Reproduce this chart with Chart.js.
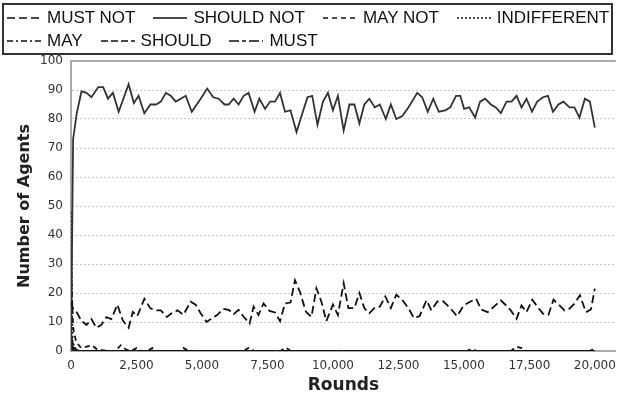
<!DOCTYPE html>
<html>
<head>
<meta charset="utf-8">
<script src="https://cdn.jsdelivr.net/npm/chart.js@4/dist/chart.umd.min.js"></script>
<style>
  html, body { margin:0; padding:0; background:#fff; }
  #wrap { position:relative; width:624px; height:401px; }
  #chart { position:absolute; left:0; top:0; z-index:1; }
  #legend { position:absolute; left:2px; top:3px; width:611px; height:52px; border:2px solid #333; z-index:2;
    font-family:"Liberation Sans", Arial, sans-serif; font-size:17px; color:#111; box-sizing:border-box;
    white-space:nowrap; overflow:hidden; }
  .row { display:flex; align-items:center; height:23px; padding-left:3px; }
  .row:first-child { margin-top:1px; }
  .item { display:flex; align-items:center; margin-right:18px; flex:none; }
  .item svg { margin-right:6px; flex:none; }
</style>
</head>
<body>
<div id="wrap">
  <canvas id="chart" width="624" height="401"></canvas>
  <div id="legend"></div>
</div>
<script>
// series names, in legend order
const seriesNames = ['MUST NOT', 'SHOULD NOT', 'MAY NOT', 'INDIFFERENT', 'MAY', 'SHOULD', 'MUST'];

// SHOULD NOT (solid line near the top)
const shouldNotRounds = [0,80,220,400,590,780,1040,1230,1410,1600,
  1820,2200,2400,2580,2800,3030,3250,3430,3620,3810,
  4000,4190,4380,4610,4950,5200,5430,5640,5860,6020,
  6210,6400,6590,6780,7010,7190,7410,7600,7790,7980,
  8170,8380,8610,8800,9030,9210,9410,9620,9810,10000,
  10190,10410,10630,10820,11010,11200,11390,11600,11790,12020,
  12210,12420,12650,12880,13220,13410,13620,13830,14040,14290,
  14480,14700,14860,15010,15200,15430,15620,15810,16030,16220,
  16410,16630,16820,17010,17200,17390,17600,17800,18020,18210,
  18400,18610,18800,19030,19220,19410,19620,19810,20000];
const shouldNotValues = [0,73,82,89.5,89,87.5,91,91,87,89,
  82.5,92,85.5,88,82,85,85,86,89,88,
  86,87,88,82.5,87,90.5,87.5,87,85,85,
  87,85,88,89,82.5,87,83.5,86,86,89,
  82.5,83,75.5,81,87.5,88,78,86,89,83,
  88,76,85,85,78.5,85,87,84,85,80,
  85,80,81,84,89,87.5,82.5,87,82.5,83,
  84,88,88,83.5,84,80.5,86,87,85,84,
  82,86,86,88,84,87,82.5,86,87.5,88,
  82.5,85,86,84,84,80.5,87,86,77];

// MUST NOT (long dashes around 10-25)
const mustNotRounds = [0,100,220,400,590,780,970,1160,1350,1540,
  1770,1980,2200,2360,2530,2800,3030,3250,3430,3660,
  3840,4070,4290,4570,4760,4950,5180,5390,5580,5810,
  6020,6210,6400,6590,6820,6970,7160,7350,7580,7790,
  7980,8170,8380,8550,8740,8970,9180,9370,9560,9750,
  10000,10190,10410,10590,10820,11010,11200,11390,11600,11790,
  12000,12210,12420,12650,12880,13090,13310,13570,13760,13980,
  14190,14480,14740,14990,15220,15470,15660,15910,16160,16410,
  16670,16790,17010,17200,17390,17610,17830,18020,18230,18420,
  18650,18840,19030,19220,19430,19660,19850,20000];
const mustNotValues = [17,14,13.3,10.4,9,11,8,9,11.7,11,
  16,10.5,8,13.5,12,18,14.7,14,14,11.7,
  13,14,12.5,17,16,13,10,11.4,12.4,14.5,
  14.2,12.7,14.2,11.8,9.5,15.3,12.4,16.4,13.8,13.3,
  10.3,16.4,16.7,24.4,20.4,13.5,11.8,21.6,17,10.3,
  16,12.4,23.4,14.8,14.8,20,14.8,13,15,15.3,
  18.8,14.8,19.4,17.6,14.8,11.4,12,17.5,14,17,
  17.3,14.8,12,15.7,16.9,18,14.3,13.4,15.4,17.5,
  15.2,14,11.1,15.7,13.4,17.7,15,12.9,12.5,17.7,
  15.7,14,14.6,16.3,19.2,13.4,14.3,21.5];

// MAY NOT (near zero, small bumps)
const mayNotRounds = [0,80,200,400,600,800,1000,1200,1400,1700,
  1900,2100,2300,2500,2700,2900,3100,3300,4100,4300,
  4500,6600,6800,7000,8000,8200,8400,15100,15300,15500,
  16800,17000,17200,17400,19800,20000];
const mayNotValues = [30,8,3,1,1.5,2,0.5,0.3,0,0,
  2,0.5,0,1,0,0,1,0,0,1,
  0,0,1.2,0,0,1.2,0,0,0.8,0,
  0,1.5,1,0,0,1];

// the rest stay at zero after the first rounds
const indifferentRounds = [0,60,200,20000];
const indifferentValues = [48,3,0,0];
const mayRounds = [0,100,300,20000];
const mayValues = [6,1,0,0];
const shouldRounds = [0,100,20000];
const shouldValues = [5,0,0];
const mustRounds = [0,100,20000];
const mustValues = [3,0,0];

const xTicks = [0,2500,5000,7500,10000,12500,15000,17500,20000];

const dashes = {
  'MUST NOT': [8,4], 'SHOULD NOT': [], 'MAY NOT': [5,4], 'INDIFFERENT': [2,2],
  'MAY': [6,3,2,3], 'SHOULD': [7,3], 'MUST': [10,3,4,3]
};

function pts(r, v) { return r.map((x, i) => ({ x: x, y: v[i] })); }

const seriesData = {
  'MUST NOT': pts(mustNotRounds, mustNotValues),
  'SHOULD NOT': pts(shouldNotRounds, shouldNotValues),
  'MAY NOT': pts(mayNotRounds, mayNotValues),
  'INDIFFERENT': pts(indifferentRounds, indifferentValues),
  'MAY': pts(mayRounds, mayValues),
  'SHOULD': pts(shouldRounds, shouldValues),
  'MUST': pts(mustRounds, mustValues)
};

const datasets = seriesNames.map(n => ({
  label: n,
  data: seriesData[n],
  borderColor: n === 'SHOULD NOT' ? '#333' : '#111',
  borderWidth: 1.8,
  borderDash: dashes[n],
  pointRadius: 0,
  tension: 0,
  fill: false
}));

// html legend
const legend = document.getElementById('legend');
[[0,1,2,3],[4,5,6]].forEach(idx => {
  const row = document.createElement('div');
  row.className = 'row';
  idx.forEach(i => {
    const n = seriesNames[i];
    const it = document.createElement('div');
    it.className = 'item';
    it.innerHTML = '<svg width="34" height="6"><line x1="0" y1="3" x2="34" y2="3" stroke="#111" stroke-width="1.5" stroke-dasharray="' +
      (dashes[n].length ? dashes[n].join(',') : 'none') + '"/></svg><span>' + n + '</span>';
    row.appendChild(it);
  });
  legend.appendChild(row);
});

const topLine = {
  id: 'topLine',
  afterDraw(chart) {
    const { ctx, chartArea } = chart;
    ctx.save();
    ctx.strokeStyle = '#aaa';
    ctx.lineWidth = 2;
    ctx.beginPath();
    ctx.moveTo(chartArea.left, chartArea.top);
    ctx.lineTo(chartArea.right, chartArea.top);
    ctx.stroke();
    ctx.restore();
  }
};

new Chart(document.getElementById('chart').getContext('2d'), {
  type: 'line',
  data: { datasets },
  options: {
    responsive: false,
    animation: false,
    layout: { padding: { top: 61, left: 5, right: 4, bottom: 0 } },
    plugins: { legend: { display: false }, tooltip: { enabled: false } },
    scales: {
      x: {
        type: 'linear', min: 0, max: 20800,
        afterBuildTicks: s => { s.ticks = xTicks.map(v => ({ value: v })); },
        afterFit: s => { s.height = 50; },
        grid: { display: true, drawOnChartArea: false, drawTicks: false },
        border: { color: '#aaa', width: 2 },
        ticks: { color: '#333', padding: 8, font: { family: 'DejaVu Sans', size: 12 },
          callback: v => v.toLocaleString('en-US'), maxRotation: 0 },
        title: { display: true, text: 'Rounds', color: '#222', padding: { top: 0, bottom: 5 },
          font: { family: 'DejaVu Sans', size: 17, weight: 'bold' } }
      },
      y: {
        min: 0, max: 100,
        afterFit: s => { s.width = 66; },
        ticks: { stepSize: 10, color: '#333', padding: 8, font: { family: 'DejaVu Sans', size: 12 } },
        grid: { color: '#c8c8c8', drawTicks: false },
        border: { color: '#aaa', width: 2, dash: [2,2] },
        title: { display: true, text: 'Number of Agents', color: '#222', padding: { top: 10, bottom: 0 },
          font: { family: 'DejaVu Sans', size: 16, weight: 'bold' } }
      }
    }
  },
  plugins: [topLine]
});
</script>
</body>
</html>
